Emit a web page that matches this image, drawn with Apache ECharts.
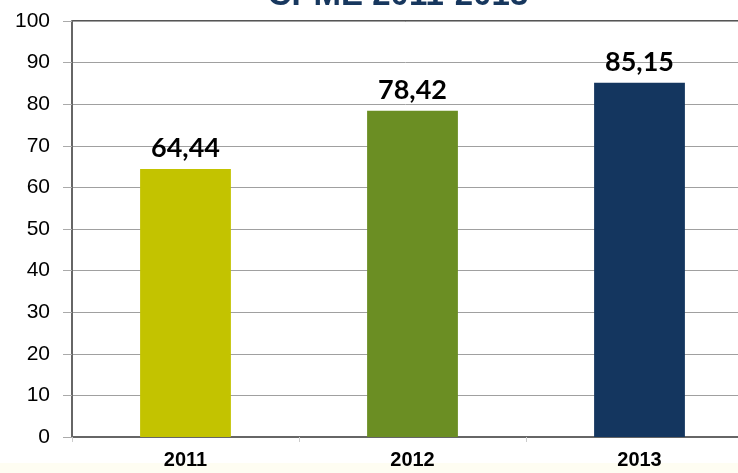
<!DOCTYPE html>
<html>
<head>
<meta charset="utf-8">
<script src="https://cdn.jsdelivr.net/npm/echarts@6/dist/echarts.min.js"></script>
<style>
  html, body { margin: 0; padding: 0; background: #fff; }
  #chart { width: 738px; height: 473px; }
</style>
</head>
<body>
<div id="chart"></div>
<script>
const years = ['2011', '2012', '2013'];
const values = [64.44, 78.42, 85.15];
const barColors = ['#C3C300', '#6B8E23', '#14365F'];

const chart = echarts.init(document.getElementById('chart'));

const option = {
  animation: false,
  backgroundColor: '#fff',
  title: {
    text: 'CPME 2011-2013',
    left: 393,
    textAlign: 'center',
    top: -26,
    textStyle: {
      color: '#17375E',
      fontWeight: 'bold',
      fontFamily: 'Liberation Sans',
      fontSize: 33
    }
  },
  grid: {
    left: 72,
    top: 21,
    right: -15,
    bottom: 36,
    outerBoundsMode: 'none'
  },
  xAxis: {
    type: 'category',
    data: years,
    axisLine: { lineStyle: { color: '#666', width: 2 } },
    axisTick: { show: true, lineStyle: { color: '#ccc' }, length: 5 },
    axisLabel: {
      color: '#000',
      fontWeight: 'bold',
      fontFamily: 'Liberation Sans',
      fontSize: 20,
      margin: 13
    }
  },
  yAxis: {
    type: 'value',
    min: 0,
    max: 100,
    interval: 10,
    axisLine: { show: true, lineStyle: { color: '#666', width: 2 } },
    axisTick: { show: true, length: 9, lineStyle: { color: '#aaa' } },
    axisLabel: {
      color: '#000',
      fontFamily: 'Liberation Sans',
      fontSize: 21,
      margin: 22
    },
    splitLine: { lineStyle: { color: '#a0a0a0', width: 1 } }
  },
  series: [{
    type: 'bar',
    data: values.map((v, i) => ({ value: v, itemStyle: { color: barColors[i] } })),
    barWidth: '40%',
    label: {
      show: true,
      position: 'top',
      distance: 7,
      color: '#000',
      fontWeight: 'bold',
      fontFamily: 'Lato',
      fontSize: 27,
      formatter: p => p.value.toFixed(2).replace('.', ',')
    }
  }],
  graphic: [{
    type: 'rect',
    z: -10,
    shape: { x: 0, y: 463, width: 738, height: 10 },
    style: { fill: '#FEFDF2' }
  }, {
    type: 'line',
    shape: { x1: 72, y1: 21, x2: 738, y2: 21 },
    style: { stroke: '#555', lineWidth: 2 }
  }]
};

chart.setOption(option);
</script>
</body>
</html>
